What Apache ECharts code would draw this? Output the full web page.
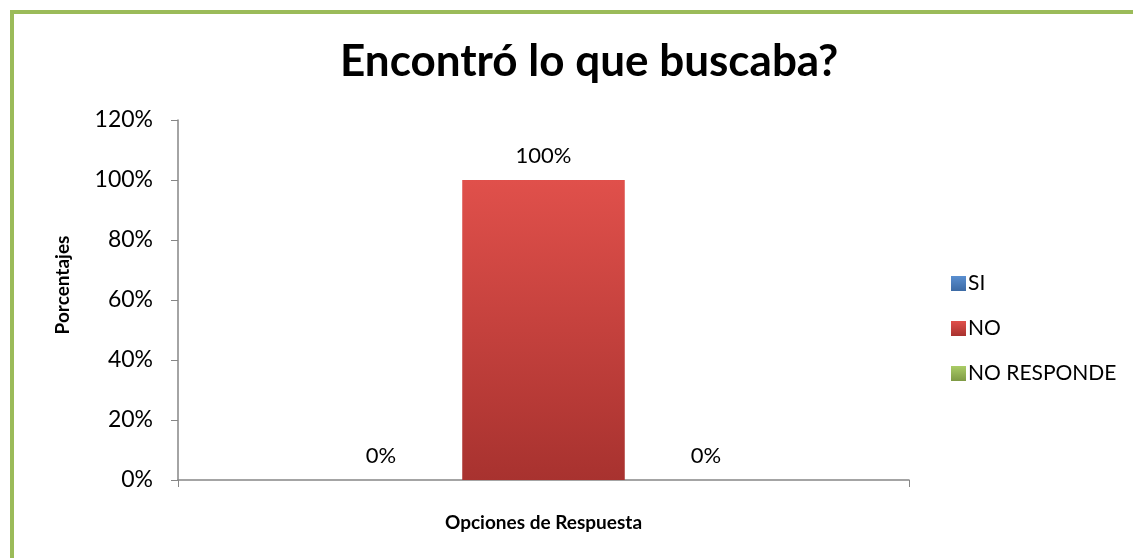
<!DOCTYPE html>
<html>
<head>
<meta charset="utf-8">
<script src="https://cdn.jsdelivr.net/npm/echarts@6/dist/echarts.min.js"></script>
<style>
  html, body { margin: 0; padding: 0; background: #fff; }
  #chart { width: 1133px; height: 558px; }
</style>
</head>
<body>
<div id="chart"></div>
<script>
// datos del grafico
var categorias = [''];
var serieNombres = ['SI', 'NO', 'NO RESPONDE'];
var serieValores = [[0], [100], [0]];
var ejeY = { min: 0, max: 120, interval: 20 };

var colores = [
  ['#5a8fd0', '#3c6aa5'],  // SI
  ['#e0504b', '#a8322f'],  // NO
  ['#aacc66', '#7e9a44']   // NO RESPONDE
];

var fuente = 'Lato';

function degradado(par) {
  return new echarts.graphic.LinearGradient(0, 0, 0, 1, [
    { offset: 0, color: par[0] },
    { offset: 1, color: par[1] }
  ]);
}

var series = [];
for (var i = 0; i < serieNombres.length; i++) {
  series.push({
    name: serieNombres[i],
    type: 'bar',
    data: serieValores[i],
    barGap: '0%',
    barCategoryGap: '33.3%',
    itemStyle: { color: degradado(colores[i]) },
    label: {
      show: true,
      position: 'top',
      distance: 13,
      formatter: '{c}%',
      color: '#000',
      fontFamily: fuente,
      fontSize: 22
    }
  });
}

var chart = echarts.init(document.getElementById('chart'));
chart.setOption({
  animation: false,
  backgroundColor: '#fff',
  color: [colores[0][0], colores[1][0], colores[2][0]],
  title: {
    text: 'Encontró lo que buscaba?',
    left: 335,
    top: 35,
    textStyle: { fontFamily: fuente, fontWeight: 'bold', fontSize: 44, color: '#000' }
  },
  legend: {
    orient: 'vertical',
    left: 946,
    top: 268,
    itemWidth: 15,
    itemHeight: 15,
    itemGap: 24,
    icon: 'rect',
    textStyle: { fontFamily: fuente, fontSize: 21, color: '#000', padding: [0, 0, 0, -3] },
    data: serieNombres
  },
  grid: { left: 178, right: 224, top: 120, bottom: 78 },
  xAxis: {
    type: 'category',
    data: categorias,
    name: 'Opciones de Respuesta',
    nameLocation: 'middle',
    nameGap: 33,
    nameTextStyle: { fontFamily: fuente, fontWeight: 'bold', fontSize: 19, color: '#000' },
    axisLine: { lineStyle: { color: '#868686', width: 1.5 } },
    axisTick: { show: true, length: 7, lineStyle: { color: '#868686' } },
    axisLabel: { show: false }
  },
  yAxis: {
    type: 'value',
    min: ejeY.min,
    max: ejeY.max,
    interval: ejeY.interval,
    name: 'Porcentajes',
    nameLocation: 'middle',
    nameGap: 106,
    nameRotate: 90,
    nameTextStyle: { fontFamily: fuente, fontWeight: 'bold', fontSize: 19, color: '#000', padding: [0, 0, 0, 30] },
    axisLine: { show: true, lineStyle: { color: '#868686', width: 1.5 } },
    axisTick: { show: true, length: 7, lineStyle: { color: '#868686' } },
    splitLine: { show: false },
    axisLabel: {
      formatter: '{value}%',
      margin: 25,
      fontFamily: fuente,
      fontSize: 23,
      color: '#000'
    }
  },
  graphic: [
    { type: 'rect', shape: { x: 10, y: 10, width: 1123, height: 4 }, style: { fill: '#9bbb59' } },
    { type: 'rect', shape: { x: 10, y: 10, width: 4, height: 548 }, style: { fill: '#9bbb59' } }
  ],
  series: series
});
</script>
</body>
</html>
